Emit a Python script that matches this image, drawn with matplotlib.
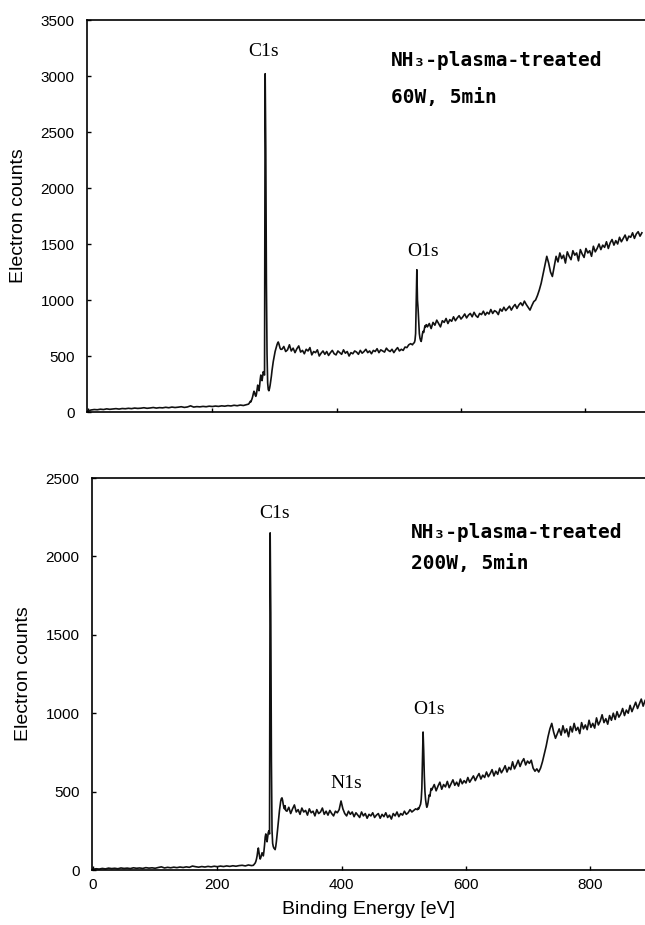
import matplotlib
matplotlib.use("Agg")
import matplotlib.pyplot as plt
import numpy as np

# ---------------- data ----------------
# each spectrum is stored in segments: (start eV, step eV, counts)
# NH3 plasma, 60 W, 5 min
seg60_low_start, seg60_low_step = 0, 5
counts60_low = [10, 18, 22, 20, 25, 22, 28, 24, 27, 30, 26, 31, 29, 33, 30, 35,
                32, 34, 38, 33, 36, 40, 35, 39, 37, 42, 38, 44, 40, 43, 47, 41,
                45, 55, 44, 48, 46, 50, 47, 52, 49, 53, 50, 55, 52, 57, 54, 60,
                56, 62, 58, 65]
seg60_c1s_start, seg60_c1s_step = 258, 1
counts60_c1s = [70, 75, 85, 95, 90, 105, 120, 140, 165, 185, 175, 150, 140, 160,
                200, 240, 220, 190, 230, 290, 330, 310, 280, 320, 360, 340, 330,
                3020, 2350, 1150, 520, 260, 200, 190, 210, 240, 280, 320, 370,
                410, 450, 480, 510, 540, 560, 580, 600, 615, 625, 610, 590, 570,
                560]
seg60_mid_start, seg60_mid_step = 312, 3
counts60_mid = [560, 585, 540, 555, 600, 545, 570, 530, 565, 590,
                535, 550, 520, 560, 545, 575, 510, 540, 530, 555,
                500, 525, 545, 515, 540, 505, 530, 550, 520, 510,
                545, 530, 515, 555, 525, 540, 500, 530, 520, 545,
                535, 515, 550, 525, 540, 560, 530, 545, 520, 550,
                540, 565, 530, 555, 545, 535, 570, 550, 540, 560,
                530, 555, 575, 545, 560, 550, 580, 575, 600, 610]
seg60_o1s_start, seg60_o1s_step = 522, 1
counts60_o1s = [600, 610, 615, 620, 640, 700, 1000, 1270, 1000, 920, 800, 700,
                660, 640, 630, 660, 700, 720, 710, 740, 770, 760, 780, 775]
seg60_high_start, seg60_high_step = 546, 3
counts60_high = [760, 790, 745, 800, 775, 820, 790, 760, 815, 800, 835, 790, 825,
                 810, 850, 815, 840, 860, 830,
                 850, 875, 840, 865, 880, 850, 890, 860, 845, 880, 870, 900, 865,
                 890, 875, 915, 880, 905, 895, 870, 920, 900, 935, 905, 925, 945,
                 910, 940, 960, 925, 955, 975, 950,
                 990, 960, 935, 910, 950, 985, 1000,
                 1040, 1090, 1150, 1230, 1310, 1390,
                 1330, 1250, 1210, 1300,
                 1390, 1340, 1420, 1370, 1400, 1330, 1430, 1390, 1360, 1440,
                 1400, 1420, 1350, 1450, 1410, 1380, 1460, 1420, 1440, 1390,
                 1480, 1430, 1460, 1500, 1450, 1490, 1470, 1520, 1460, 1510,
                 1540, 1490, 1530, 1500, 1560, 1520, 1550, 1580, 1530, 1570,
                 1560, 1600, 1550, 1590, 1610, 1570, 1600]

# NH3 plasma, 200 W, 5 min
seg200_low_start, seg200_low_step = 0, 5
counts200_low = [5, 8, 6, 10, 7, 12, 9, 11, 8, 13, 10, 12, 9, 14, 11, 13, 10, 15,
                 12, 14, 11, 16, 20, 13, 17, 14, 18, 15, 19, 16, 20, 17, 25, 21,
                 18, 22, 19, 23, 20, 24, 21, 25, 22, 26, 23, 27, 24, 28, 30, 26,
                 32, 28]
seg200_c1s_start, seg200_c1s_step = 258, 1
counts200_c1s = [30, 35, 40, 45, 55, 70, 90, 120, 140, 110, 85, 70, 80, 95, 110,
                 100, 90, 120, 160, 210, 230, 200, 180, 210, 240, 250, 230, 2150,
                 1640, 700, 250, 170, 150, 140, 135, 130, 150, 180, 220, 260, 300,
                 340, 380, 410, 440, 455, 460, 445, 420, 400, 390, 410, 380]
seg200_mid_start, seg200_mid_step = 312, 3
counts200_mid = [375, 400, 360, 390, 415, 370, 385, 355, 395, 370,
                 380, 350, 390, 365, 375, 345, 385, 360, 370, 395,
                 355, 375, 350, 380, 360, 345, 375, 365, 385, 440,
                 390, 360, 345, 375, 355, 370, 340, 365, 350, 335,
                 370, 345, 360, 330, 355, 345, 365, 335, 350, 360,
                 330, 355, 340, 365, 335, 350, 325, 360, 345, 370,
                 340, 360, 350, 375, 355, 365, 385, 370, 380, 390]
seg200_o1s_start, seg200_o1s_step = 522, 1
counts200_o1s = [385, 395, 390, 400, 410, 420, 450, 520, 700, 880, 760, 600, 500,
                 450, 420, 400, 410, 430, 460, 480, 470, 500, 520, 510]
seg200_high_start, seg200_high_step = 546, 3
counts200_high = [520, 545, 505, 535, 560, 515, 545, 530, 565, 525, 550, 575, 540,
                  560, 535, 580, 550, 570, 555,
                  590, 560, 580, 600, 570, 595, 615, 580, 605, 590, 625, 595, 615,
                  640, 600, 630, 610, 650, 620, 640, 665, 625, 655, 640, 690, 645,
                  670, 700, 660, 690, 710, 670, 695,
                  680, 700, 650, 630, 645, 625, 650,
                  690, 740, 790, 850, 900, 935,
                  880, 840, 870, 900,
                  860, 920, 875, 900, 850, 915, 880, 935, 890, 910,
                  870, 940, 900, 925, 895, 955, 910, 935, 905, 970,
                  925, 950, 990, 940, 965, 930, 985, 955, 1000, 960,
                  1010, 975, 995, 1030, 985, 1020, 1000, 1050, 1010, 1040,
                  1070, 1030, 1060, 1090, 1045, 1080, 1100]


def build(segments):
    xs, ys = [], []
    for start, step, vals in segments:
        xs.append(start + step * np.arange(len(vals)))
        ys.append(np.array(vals, dtype=float))
    return np.concatenate(xs), np.concatenate(ys)


e60, c60 = build([(seg60_low_start, seg60_low_step, counts60_low),
                  (seg60_c1s_start, seg60_c1s_step, counts60_c1s),
                  (seg60_mid_start, seg60_mid_step, counts60_mid),
                  (seg60_o1s_start, seg60_o1s_step, counts60_o1s),
                  (seg60_high_start, seg60_high_step, counts60_high)])
e200, c200 = build([(seg200_low_start, seg200_low_step, counts200_low),
                    (seg200_c1s_start, seg200_c1s_step, counts200_c1s),
                    (seg200_mid_start, seg200_mid_step, counts200_mid),
                    (seg200_o1s_start, seg200_o1s_step, counts200_o1s),
                    (seg200_high_start, seg200_high_step, counts200_high)])

xticks = [0, 200, 400, 600, 800]
yticks60 = [0, 500, 1000, 1500, 2000, 2500, 3000, 3500]
yticks200 = [0, 500, 1000, 1500, 2000, 2500]

# ---------------- figure ----------------
W, H = 645, 925
fig = plt.figure(figsize=(W / 100, H / 100), dpi=100)
plt.rcParams["font.family"] = ["Liberation Sans", "DejaVu Sans"]


def px_axes(left, top, right, bottom):
    return fig.add_axes([left / W, 1 - bottom / H, (right - left) / W, (bottom - top) / H])


def style(ax, yticks, ymax, xmin, xmax):
    ax.set_xlim(xmin, xmax)
    ax.set_ylim(0, ymax)
    ax.set_xticks(xticks)
    ax.set_yticks(yticks)
    ax.spines["right"].set_visible(False)
    for s in ("left", "bottom", "top"):
        ax.spines[s].set_linewidth(1.2)
    ax.tick_params(direction="in", length=3, width=1, labelsize=11)
    ax.tick_params(axis="y", pad=9)
    ax.tick_params(axis="x", pad=6)
    ax.set_ylabel("Electron counts", fontsize=14, labelpad=10)


ax1 = px_axes(87, 20, 645, 412)
ax1.plot(e60, c60, color="#111111", lw=1.2)
style(ax1, yticks60, 3500, -1.6, 896)
ax1.set_xticklabels([])

ax2 = px_axes(92, 478, 645, 870)
ax2.plot(e200, c200, color="#111111", lw=1.2)
style(ax2, yticks200, 2500, -1.6, 888)
ax2.set_xlabel("Binding Energy [eV]", fontsize=14, labelpad=6)


def ftext(x, y, s, **kw):
    fig.text(x / W, 1 - y / H, s, va="center", **kw)


serif = dict(family="Liberation Serif", fontsize=14, ha="center")
mono = dict(family="DejaVu Sans Mono", fontweight="bold", fontsize=14, ha="left")

ftext(264, 52, "C1s", **serif)
ftext(423, 251, "O1s", **serif)
ftext(391, 61, "NH\u2083-plasma-treated", **mono)
ftext(391, 98, "60W, 5min", **mono)

ftext(275, 513, "C1s", **serif)
ftext(429, 710, "O1s", **serif)
ftext(346, 783, "N1s", **serif)
ftext(411, 532, "NH\u2083-plasma-treated", **mono)
ftext(411, 563, "200W, 5min", **mono)

fig.savefig("out.png", dpi=100)
